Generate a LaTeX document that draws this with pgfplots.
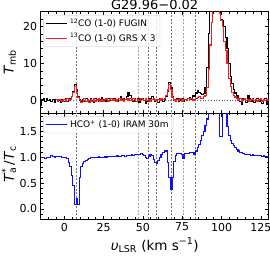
\documentclass[border=0pt]{standalone}
\usepackage{fontspec}
\setmainfont{DejaVu Sans}
\usepackage{pgfplots}
\usepackage{pgfplotstable}
\pgfplotsset{compat=1.18}
\definecolor{myred}{RGB}{255,25,25}
\definecolor{myblue}{RGB}{15,15,255}

\pgfplotstableread{
x y
-15 -1.5
-14 0.2
-13 0.5
-12 -0.3
-11 0.4
-10 0.0
-9 0.3
-8 -0.4
-7 0.2
-6 -0.5
-5 0.3
-4 -0.2
-3 0.1
-2 -0.6
-1 0.2
0 -0.3
1 0.4
2 -0.2
3 0.0
4 0.5
5 1.0
6 2.5
7 4.3
8 3.0
9 1.0
10 0.3
11 -0.4
12 0.2
13 -0.3
14 0.6
15 0.1
16 -0.3
17 0.4
18 0.0
19 -0.5
20 0.5
21 0.2
22 -0.2
23 0.3
24 0.8
25 0.2
26 -0.3
27 0.3
28 0.5
29 -0.1
30 0.4
31 0.0
32 0.6
33 0.3
34 -0.2
35 0.5
36 0.9
37 0.3
38 0.5
39 0.2
40 1.0
41 2.0
42 1.2
43 0.2
44 -0.3
45 0.5
46 -0.2
47 0.4
48 -0.5
49 0.3
50 0.6
51 0.0
52 -0.8
53 -0.3
54 0.5
55 0.2
56 1.0
57 0.5
58 -0.2
59 0.3
60 -0.6
61 0.4
62 0.1
63 -0.3
64 0.3
65 1.0
66 2.5
67 4.8
68 3.5
69 1.0
70 0.2
71 -0.3
72 0.6
73 -0.2
74 0.1
75 0.5
76 -0.4
77 0.3
78 0.1
79 0.5
80 0.8
81 0.3
82 1.2
83 1.0
84 2.0
85 2.6
86 2.2
87 1.8
88 1.5
89 1.8
90 3.5
91 9.0
92 18.0
93 26.0
94 30.0
95 32.0
96 32.0
97 31.0
98 28.0
99 25.0
100 22.0
101 21.5
102 20.0
103 17.0
104 14.0
105 10.0
106 6.5
107 4.5
108 3.0
109 2.0
110 1.3
111 0.6
112 -0.3
113 -1.2
114 0.5
115 0.3
116 -0.6
117 1.2
118 0.4
119 -0.2
120 0.3
121 -0.5
122 0.2
123 0.6
124 -0.3
125 0.4
126 -0.8
127 0.2
128 0.5
129 -1.0
130 -0.3
}\cotwelve

\pgfplotstableread{
x y
-5 0.3
-4 -0.2
-3 0.3
-2 0.0
-1 -0.4
0 0.2
1 -0.3
2 0.4
3 0.0
4 0.3
5 1.0
6 2.2
7 3.8
8 2.5
9 0.8
10 0.0
11 -0.6
12 -0.2
13 0.5
14 -0.3
15 0.2
16 -0.5
17 0.3
18 -0.2
19 0.4
20 -0.3
21 0.1
22 0.5
23 -0.2
24 0.3
25 -0.4
26 0.2
27 0.4
28 -0.3
29 0.2
30 0.6
31 -0.1
32 0.3
33 -0.4
34 0.2
35 0.5
36 0.0
37 0.4
38 -0.3
39 0.2
40 0.5
41 0.1
42 0.4
43 0.0
44 0.6
45 0.2
46 -0.2
47 0.3
48 0.1
49 0.6
50 0.2
51 -0.1
52 0.4
53 0.0
54 0.3
55 -0.3
56 0.2
57 0.5
58 0.1
59 -0.2
60 0.3
61 0.0
62 0.4
63 0.2
64 0.5
65 1.2
66 2.8
67 4.2
68 3.0
69 0.8
70 0.1
71 -0.2
72 0.3
73 0.0
74 0.4
75 -0.3
76 0.2
77 0.3
78 -0.1
79 0.4
80 0.2
81 0.5
82 0.0
83 0.3
84 0.6
85 0.8
86 1.0
87 0.6
88 0.4
89 1.0
90 1.2
91 3.5
92 8.5
93 15.0
94 21.0
95 27.0
96 31.0
97 30.0
98 26.0
99 23.5
100 21.5
101 20.0
102 16.0
103 13.5
104 10.0
105 6.0
106 3.8
107 2.2
108 1.4
109 0.9
110 0.5
111 0.0
112 0.4
113 -0.2
114 0.3
115 0.6
116 0.0
117 0.3
118 -0.4
119 0.2
120 0.5
121 0.0
122 0.3
123 -0.3
124 0.2
125 0.4
126 -0.2
127 0.3
128 0.0
129 0.2
130 0.1
}\cothirteen

\pgfplotstableread{
x y
-15 1.00
-14 1.00
-13 0.99
-12 0.98
-11 1.00
-10 0.99
-9 1.00
-8 1.03
-7 1.02
-6 1.00
-5 1.01
-4 1.02
-3 1.01
-2 1.01
-1 1.00
0 1.00
1 0.99
2 0.97
3 0.90
4 0.82
5 0.65
6 0.45
7 0.08
8 0.20
9 0.08
10 0.60
11 0.82
12 0.88
13 0.92
14 0.93
15 0.96
16 0.97
17 0.99
18 1.00
19 1.00
20 0.99
21 1.00
22 1.01
23 1.00
24 1.00
25 1.00
26 1.01
27 1.00
28 1.01
29 1.02
30 1.01
31 1.02
32 1.02
33 1.01
34 1.03
35 1.02
36 1.02
37 1.03
38 1.03
39 1.02
40 1.04
41 1.03
42 1.04
43 1.05
44 1.04
45 1.05
46 1.05
47 1.06
48 1.06
49 1.07
50 1.05
51 1.04
52 0.99
53 0.97
54 1.02
55 1.05
56 1.04
57 0.95
58 0.89
59 0.88
60 0.93
61 1.00
62 1.05
63 1.10
64 1.13
65 1.12
66 0.90
67 0.60
68 0.37
69 0.60
70 0.92
71 1.03
72 1.08
73 1.08
74 1.07
75 1.05
76 0.98
77 1.07
78 1.08
79 1.08
80 1.09
81 1.10
82 1.10
83 1.05
84 1.12
85 1.18
86 1.25
87 1.33
88 1.42
89 1.50
90 1.62
91 1.74
92 1.95
93 2.20
94 2.40
95 2.50
96 2.50
97 2.40
98 2.20
99 1.40
100 1.40
101 2.20
102 2.50
103 2.00
104 1.60
105 1.42
106 1.33
107 1.27
108 1.23
109 1.18
110 1.15
111 1.12
112 1.10
113 1.09
114 1.07
115 1.05
116 1.06
117 1.05
118 1.06
119 1.04
120 1.05
121 1.04
122 1.03
123 1.04
124 1.03
125 1.03
126 1.02
127 1.03
128 1.02
129 1.02
130 1.02
}\hcop

\begin{document}
\begin{tikzpicture}
\pgfplotsset{
  every axis/.append style={
    scale only axis,
    width=228pt,
    xmin=-15, xmax=130,
    xtick={0,25,...,125},
    minor xtick={-15,-10,...,130},
    tick align=inside,
    major tick length=3.5pt,
    minor tick length=2pt,
    every tick/.style={black, line width=0.6pt},
    axis line style={line width=0.8pt},
    /pgf/number format/assume math mode=true,
    tick label style={font=\fontsize{11}{11}\selectfont},
    label style={font=\fontsize{13.5}{14}\selectfont},
    ylabel style={at={(axis description cs:-0.135,0.5)}, anchor=center, rotate=0},
    legend image code/.code={\draw[#1] (0pt,0pt) -- (21pt,0pt);},
    legend style={
      at={(0.011,0.968)}, anchor=north west,
      draw=black!20, rounded corners=2pt,
      fill=white, fill opacity=0.8, text opacity=1,
      font=\fontsize{9}{10}\selectfont,
      inner xsep=2.5pt, inner ysep=1.5pt, row sep=1pt,
      cells={anchor=west},
    },
  },
}
% top panel
\begin{axis}[
  at={(40.7pt,141.7pt)}, anchor=south west,
  height=101.6pt,
  ymin=-3.5, ymax=24,
  ytick={0,10,20},
  minor ytick={-2,0,...,24},
  xticklabels={},
  ylabel={\textit{T}\textsubscript{mb}},
  title={G29.96−0.02},
  title style={font=\fontsize{13}{13}\selectfont, yshift=-7.8pt},
]
\addplot[black!65, dotted, line width=0.7pt, forget plot] coordinates {(-15,0) (130,0)};
\addplot[black!55, dashed, dash pattern=on 2pt off 1.5pt, line width=0.45pt, forget plot] coordinates {(7.5,-5) (7.5,30)};
\addplot[black!35, dashed, dash pattern=on 2pt off 1.5pt, line width=0.6pt, forget plot] coordinates {(47.3,-5) (47.3,30)};
\addplot[black!55, dashed, dash pattern=on 2pt off 1.5pt, line width=0.45pt, forget plot] coordinates {(53.3,-5) (53.3,30)};
\addplot[black!55, dashed, dash pattern=on 2pt off 1.5pt, line width=0.45pt, forget plot] coordinates {(58.6,-5) (58.6,30)};
\addplot[black!55, dashed, dash pattern=on 2pt off 1.5pt, line width=0.45pt, forget plot] coordinates {(67.8,-5) (67.8,30)};
\addplot[black!35, dashed, dash pattern=on 2pt off 1.5pt, line width=0.6pt, forget plot] coordinates {(75.8,-5) (75.8,30)};
\addplot[black!55, dashed, dash pattern=on 2pt off 1.5pt, line width=0.45pt, forget plot] coordinates {(83.1,-5) (83.1,30)};
\addplot[black, line width=1.1pt, const plot mark mid] table {\cotwelve};
\addlegendentry{\textsuperscript{12}CO (1-0) FUGIN}
\addplot[myred, line width=1.1pt, const plot mark mid] table {\cothirteen};
\addlegendentry{\textsuperscript{13}CO (1-0) GRS X 3}
\end{axis}
% bottom panel
\begin{axis}[
  at={(40.7pt,35.7pt)}, anchor=south west,
  height=106pt,
  ymin=-0.2, ymax=1.85,
  ytick={0,0.5,1,1.5},
  minor ytick={-0.1,0,...,1.8},
  yticklabel style={/pgf/number format/.cd, fixed, fixed zerofill, precision=1},
  ylabel={\textit{T}\textsuperscript{*}\kern-0.45em\textsubscript{a}\,/\textit{T}\textsubscript{c}},
  ylabel style={at={(axis description cs:-0.14,0.52)}},
  xlabel={\textit{υ}\textsubscript{LSR} (km s\textsuperscript{−1})},
]
\addplot[black!55, dashed, dash pattern=on 2pt off 1.5pt, line width=0.45pt, forget plot] coordinates {(7.5,-1) (7.5,3)};
\addplot[black!35, dashed, dash pattern=on 2pt off 1.5pt, line width=0.6pt, forget plot] coordinates {(47.3,-1) (47.3,3)};
\addplot[black!55, dashed, dash pattern=on 2pt off 1.5pt, line width=0.45pt, forget plot] coordinates {(53.3,-1) (53.3,3)};
\addplot[black!55, dashed, dash pattern=on 2pt off 1.5pt, line width=0.45pt, forget plot] coordinates {(58.6,-1) (58.6,3)};
\addplot[black!55, dashed, dash pattern=on 2pt off 1.5pt, line width=0.45pt, forget plot] coordinates {(67.8,-1) (67.8,3)};
\addplot[black!35, dashed, dash pattern=on 2pt off 1.5pt, line width=0.6pt, forget plot] coordinates {(75.8,-1) (75.8,3)};
\addplot[black!55, dashed, dash pattern=on 2pt off 1.5pt, line width=0.45pt, forget plot] coordinates {(83.1,-1) (83.1,3)};
\addplot[myblue, line width=1.1pt, const plot mark mid] table {\hcop};
\addlegendentry{HCO\textsuperscript{+} (1-0) IRAM 30m}
\end{axis}
\pgfresetboundingbox
\path (0pt,0pt) rectangle (270pt,255pt);
\end{tikzpicture}
\end{document}
